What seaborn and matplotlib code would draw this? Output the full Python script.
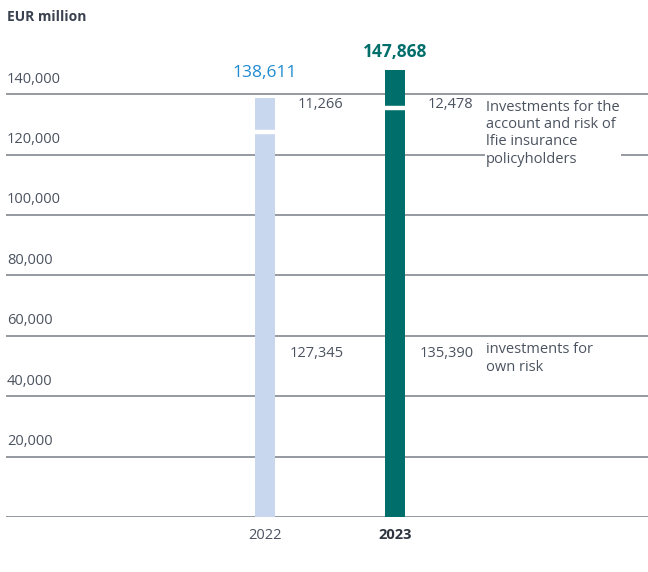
"""Investments split into own risk and life insurance policyholders, 2022 vs 2023."""

import matplotlib
matplotlib.use("Agg")
import matplotlib.pyplot as plt
import seaborn as sns
import pandas as pd

# data
years = ["2022", "2023"]
own_risk = [127345, 135390]
policyholders = [11266, 12478]
totals = [138611, 147868]
total_labels = ["138,611", "147,868"]
own_risk_labels = ["127,345", "135,390"]
policyholder_labels = ["11,266", "12,478"]
y_ticks = [20000, 40000, 60000, 80000, 100000, 120000, 140000]

bar_colors = ["#c8d6ee", "#006e6a"]
total_colors = ["#1f8bd0", "#006e6a"]
text_gray = "#4b5360"
grid_gray = "#8c929a"

sns.set_theme(style="white")
plt.rcParams["font.family"] = ["Open Sans", "DejaVu Sans"]

df = pd.DataFrame({"year": years, "total": totals, "own": own_risk})

fig = plt.figure(figsize=(6.48, 5.72), dpi=100)
ax = fig.add_axes([6 / 648, 55 / 572, 642 / 648, 453 / 572])

# grid lines under the bars
for t in [0] + y_ticks:
    ax.axhline(t, color=grid_gray, lw=1.3, zorder=0)

bw = 20 / 130
sns.barplot(data=df, x="year", y="total", hue="year", palette=bar_colors,
            width=bw, legend=False, ax=ax, saturation=1, zorder=2,
            linewidth=0, edgecolor="none")
# white gap between the two segments
for i, v in enumerate(own_risk):
    ax.hlines(v, i - bw / 2 - 0.01, i + bw / 2 + 0.01, color="white",
              lw=3.2, zorder=3)

ax.set_ylim(0, 150000)
ax.set_xlim(-(265 - 6) / 130, 1 + (648 - 395) / 130)
ax.set_xlabel("")
ax.set_ylabel("")
ax.set_yticks([])
ax.set_xticks([])
for s in ax.spines.values():
    s.set_visible(False)

# y labels sitting above their grid lines
for t in y_ticks:
    ax.text(0.0015, t + 2500, f"{t:,}", transform=ax.get_yaxis_transform(),
            ha="left", va="bottom", fontsize=10.5, color=text_gray)

# year labels
ax.text(0, -6000, years[0], ha="center", va="center", fontsize=10.5,
        color=text_gray)
ax.text(1, -6000, years[1], ha="center", va="center", fontsize=10.5,
        color="#2e3440", fontweight="bold")

# totals
ax.text(0, totals[0] + 5800, total_labels[0], ha="center", va="bottom",
        fontsize=12.5, color=total_colors[0], clip_on=False)
ax.text(1, totals[1] + 3000, total_labels[1], ha="center", va="bottom",
        fontsize=12.5, color=total_colors[1], fontweight="bold", clip_on=False)

# segment values
for i in range(2):
    ax.text(i + 0.605, 136700, policyholder_labels[i], ha="right", va="center",
            fontsize=10.5, color=text_gray)
    ax.text(i + 0.605, 54000, own_risk_labels[i], ha="right", va="center",
            fontsize=10.5, color=text_gray)

ax.text(1.7, 140000 - 1800,
        "Investments for the\naccount and risk of\nlfie insurance\npolicyholders",
        ha="left", va="top", fontsize=10.5, color=text_gray, linespacing=1.22,
        zorder=4, bbox=dict(facecolor="white", edgecolor="none", pad=1))
ax.text(1.7, 57800, "investments for\nown risk", ha="left", va="top",
        fontsize=10.5, color=text_gray, linespacing=1.22)

fig.text(7 / 648, 1 - 17 / 572, "EUR million", ha="left", va="center",
         fontsize=10, fontweight="bold", color="#3a4250")

fig.savefig("out.png", dpi=100)
